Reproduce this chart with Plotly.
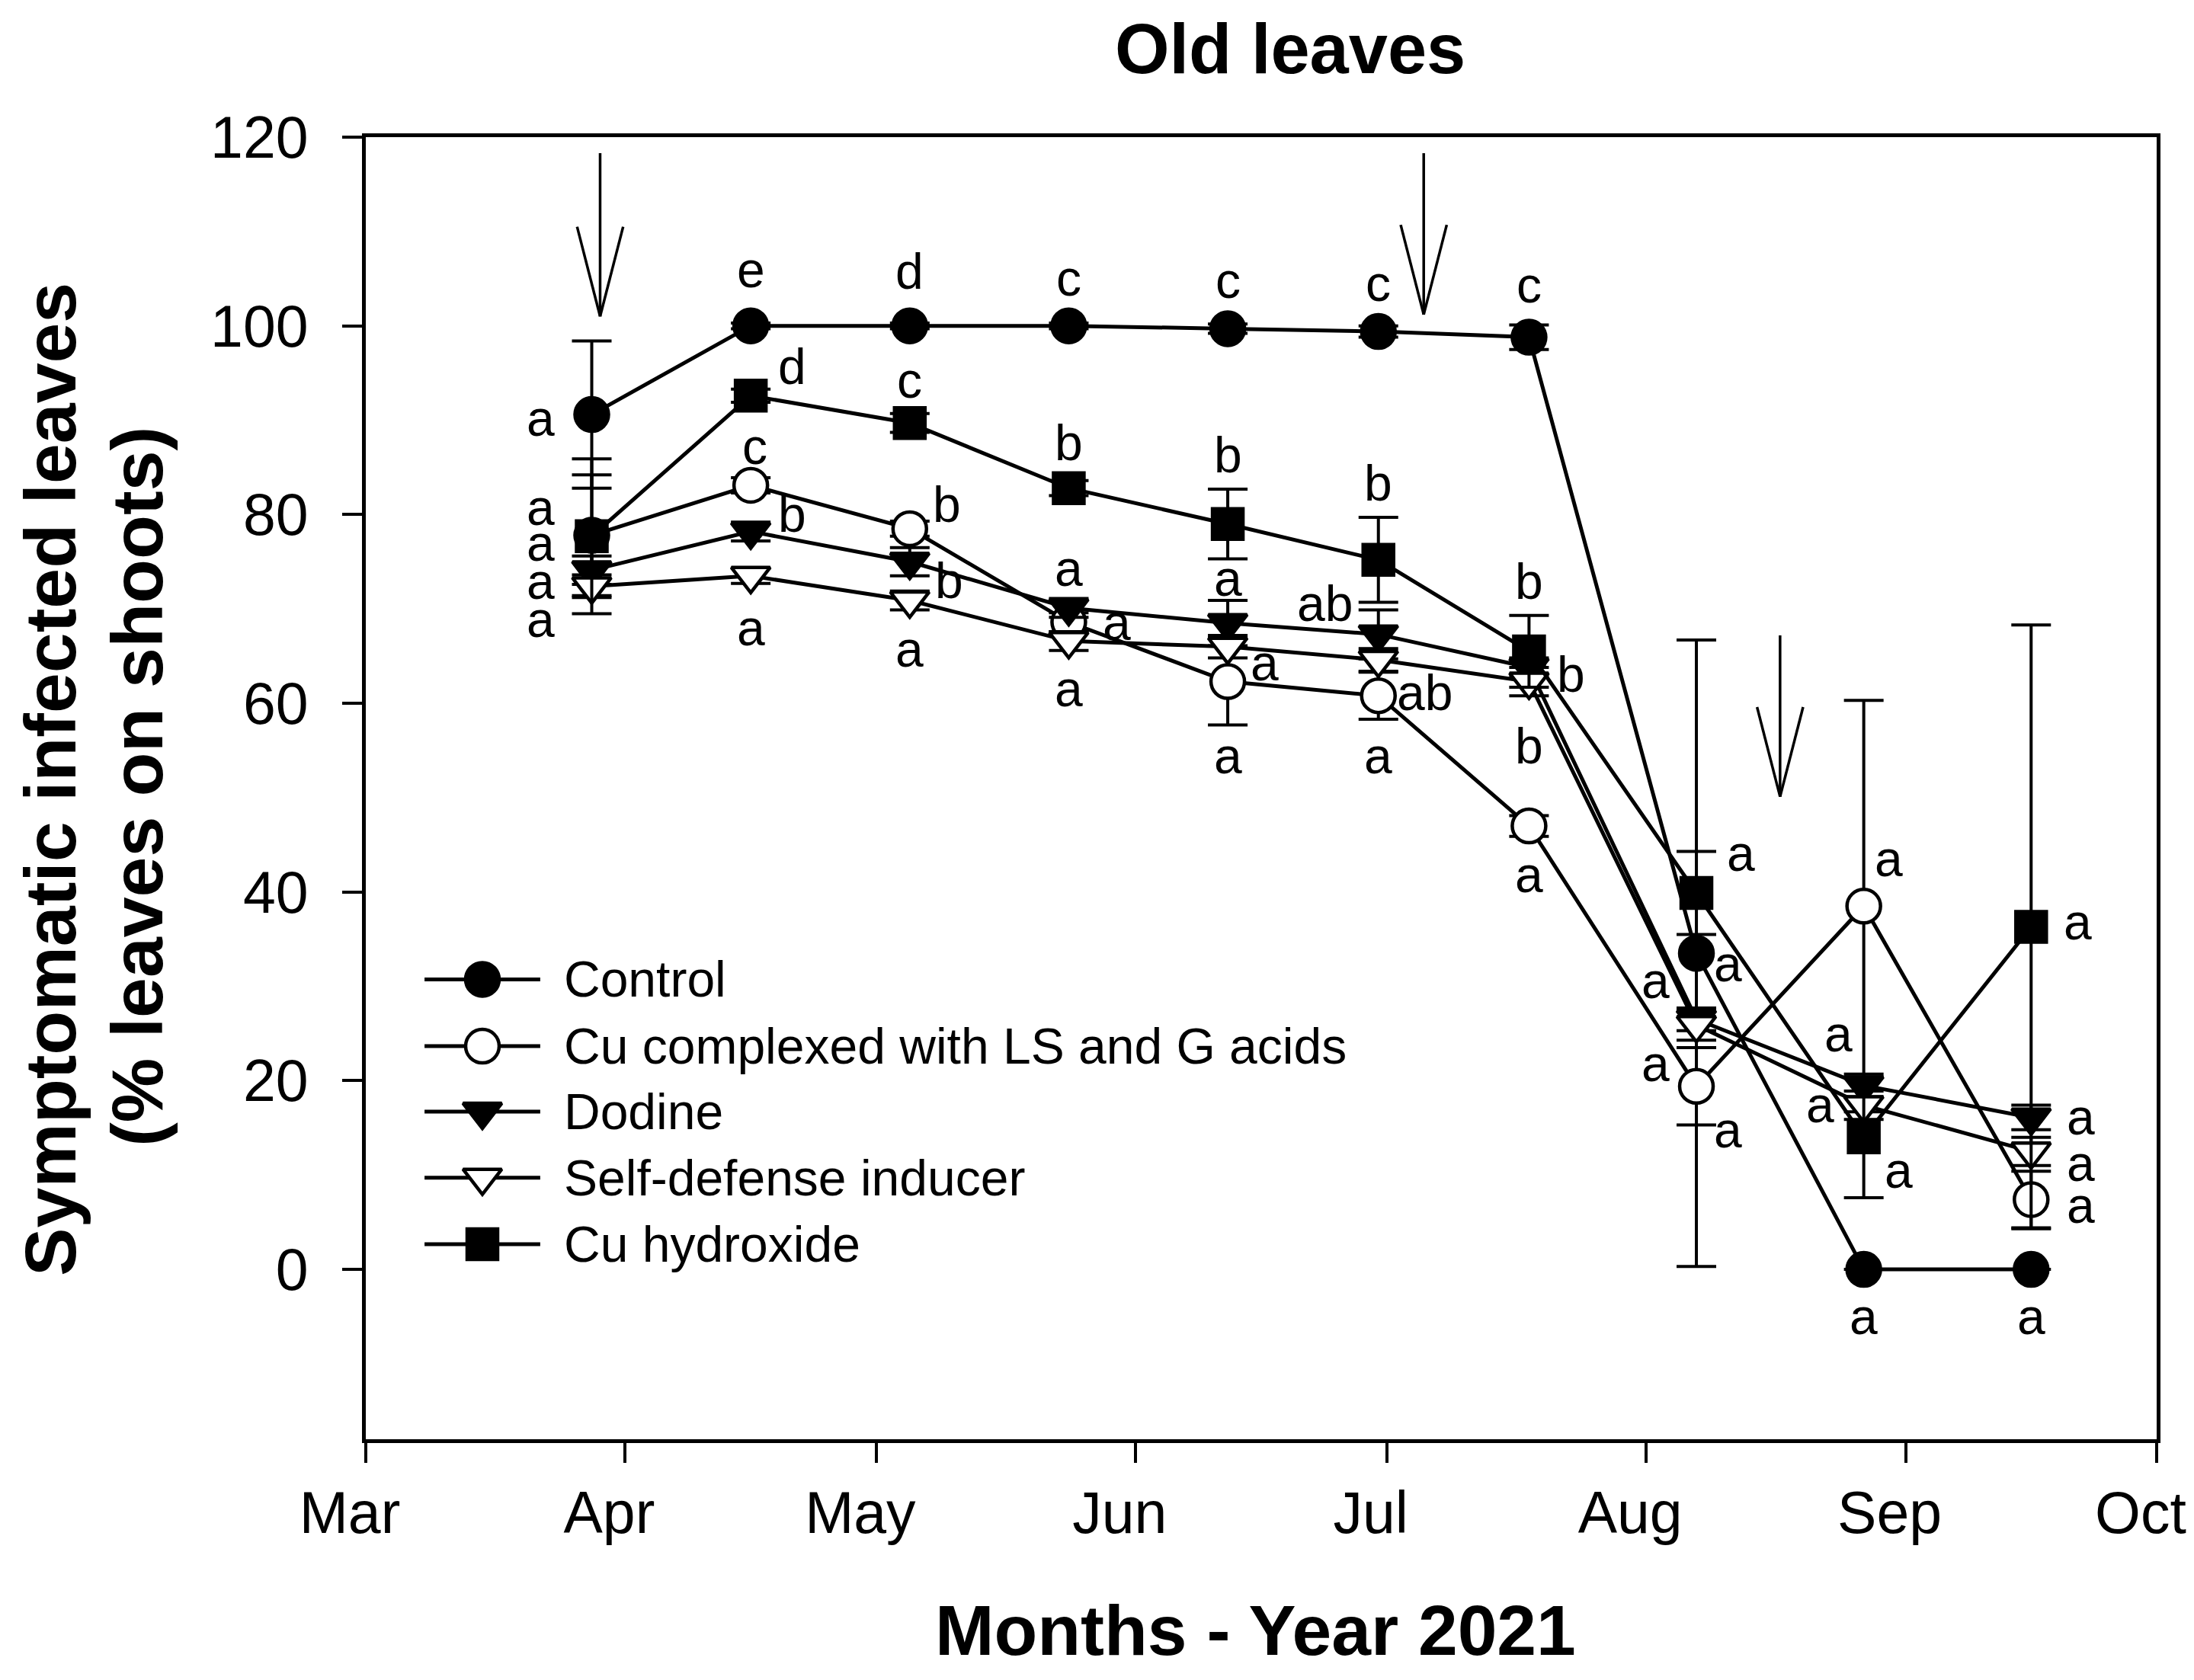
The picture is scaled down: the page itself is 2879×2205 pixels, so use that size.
import pandas as pd
import plotly.graph_objects as go

# sampling dates (2021)
dates = ['2021-03-28', '2021-04-16', '2021-05-05', '2021-05-24', '2021-06-12',
         '2021-06-30', '2021-07-18', '2021-08-07', '2021-08-27', '2021-09-16']

# % symptomatic infected leaves, mean and SD
control = [90.6, 100.0, 100.0, 100.0, 99.7, 99.4, 98.8, 33.5, 0.0, 0.0]
control_sd = [7.8, 0.3, 0.3, 0.3, 0.5, 0.6, 1.3, 33.2, 0.0, 0.0]

cu_complex = [77.8, 83.1, 78.5, 68.6, 62.3, 60.8, 47.0, 19.4, 38.5, 7.4]
cu_complex_sd = [6.4, 0.8, 0.8, 1.0, 4.6, 2.5, 1.1, 4.1, 21.8, 3.0]

dodine = [74.1, 78.2, 75.0, 70.1, 68.5, 67.3, 63.8, 26.5, 19.5, 16.1]
dodine_sd = [1.5, 1.0, 1.5, 1.0, 2.4, 2.6, 1.0, 1.2, 1.2, 1.3]

self_defense = [72.4, 73.5, 70.9, 66.6, 66.0, 64.6, 62.3, 25.9, 17.4, 12.5]
self_defense_sd = [1.2, 0.8, 1.0, 1.0, 1.2, 1.2, 1.5, 1.6, 1.5, 1.5]

cu_hydroxide = [77.7, 92.6, 89.7, 82.8, 79.0, 75.2, 65.5, 39.9, 14.0, 36.3]
cu_hydroxide_sd = [8.2, 0.7, 1.0, 0.8, 3.7, 4.5, 3.8, 4.4, 6.4, 32.0]

# significance letters
letter_x = (['2021-03-21 22:00'] * 5 +
            ['2021-04-16', '2021-04-20 22:00', '2021-04-16 12:00', '2021-04-20 22:00', '2021-04-16'] +
            ['2021-05-05', '2021-05-05', '2021-05-09 10:00', '2021-05-09 17:00', '2021-05-05'] +
            ['2021-05-24', '2021-05-24', '2021-05-24', '2021-05-29 17:00', '2021-05-24'] +
            ['2021-06-12', '2021-06-12', '2021-06-12', '2021-06-16 10:00', '2021-06-12'] +
            ['2021-06-30', '2021-06-30', '2021-06-23 14:00', '2021-07-05 12:00', '2021-06-30'] +
            ['2021-07-18', '2021-07-18', '2021-07-23', '2021-07-18', '2021-07-18'] +
            ['2021-08-12 07:00', '2021-08-10 19:00', '2021-08-02 02:00', '2021-08-02 02:00', '2021-08-10 19:00'] +
            ['2021-08-30', '2021-08-24', '2021-08-21 19:00', '2021-08-31 05:00', '2021-08-27'] +
            ['2021-09-21 14:00', '2021-09-21 22:00', '2021-09-21 22:00', '2021-09-21 22:00', '2021-09-16'])
letter_y = ([89.9, 80.4, 76.6, 72.6, 68.6] +
            [105.6, 95.7, 86.9, 80.0, 67.7] +
            [105.8, 93.9, 81.1, 73.0, 65.4] +
            [104.7, 87.6, 74.0, 68.2, 61.2] +
            [104.5, 86.3, 72.9, 64.0, 54.1] +
            [104.2, 83.3, 70.6, 61.1, 54.1] +
            [104.0, 72.9, 63.1, 55.5, 41.5] +
            [43.8, 32.1, 30.3, 21.5, 14.5] +
            [43.2, 24.6, 17.1, 10.2, -5.3] +
            [36.5, 15.8, 10.9, 6.5, -5.3])
letter_text = (['a', 'a', 'a', 'a', 'a'] +
               ['e', 'd', 'c', 'b', 'a'] +
               ['d', 'c', 'b', 'b', 'a'] +
               ['c', 'b', 'a', 'a', 'a'] +
               ['c', 'b', 'a', 'a', 'a'] +
               ['c', 'b', 'ab', 'ab', 'a'] +
               ['c', 'b', 'b', 'b', 'a'] +
               ['a', 'a', 'a', 'a', 'a'] +
               ['a', 'a', 'a', 'a', 'a'] +
               ['a', 'a', 'a', 'a', 'a'])

# treatment application arrows
arrow_x = ['2021-03-29', '2021-07-05 10:00', '2021-08-17']
arrow_top = [118.3, 118.3, 67.2]
arrow_tip = [101.0, 101.2, 50.1]

series = [
    ('Control', control, control_sd, 'circle', 'black', 44),
    ('Cu complexed with LS and G acids', cu_complex, cu_complex_sd, 'circle', 'white', 44),
    ('Dodine', dodine, dodine_sd, 'triangle-down', 'black', 44),
    ('Self-defense inducer', self_defense, self_defense_sd, 'triangle-down', 'white', 44),
    ('Cu hydroxide', cu_hydroxide, cu_hydroxide_sd, 'square', 'black', 40),
]

FONT = 'Liberation Sans, Arial, sans-serif'

fig = go.Figure()

for name, vals, sd, sym, fill, size in series:
    fig.add_trace(go.Scatter(
        x=dates, y=vals, mode='lines+markers', name=name, showlegend=False,
        line=dict(color='black', width=5),
        marker=dict(symbol=sym, size=size, color=fill, line=dict(color='black', width=4.5)),
        error_y=dict(type='data', array=sd, visible=True, color='black', thickness=4, width=26),
        cliponaxis=False,
    ))

# hand-made legend on an overlay axis (0..1 paper-like coords)
leg_y = [0.3532, 0.3019, 0.2516, 0.2009, 0.1498]
for (name, vals, sd, sym, fill, size), ly in zip(series, leg_y):
    fig.add_trace(go.Scatter(
        x=[0.0328, 0.0651, 0.0974], y=[ly] * 3, xaxis='x2', yaxis='y2',
        mode='lines+markers', showlegend=False, hoverinfo='skip',
        line=dict(color='black', width=5),
        marker=dict(symbol=sym, size=[0, size, 0], color=fill, opacity=1,
                    line=dict(color='black', width=[0, 4.5, 0])),
    ))
    fig.add_annotation(x=0.1098, y=ly, xref='x2', yref='y2', text=name, showarrow=False,
                       xanchor='left', yanchor='middle',
                       font=dict(family=FONT, size=66, color='black'))

for lx, ly, lt in zip(letter_x, letter_y, letter_text):
    fig.add_annotation(x=lx, y=ly, text=lt, showarrow=False, xanchor='center', yanchor='middle',
                       yshift=4 if lt in ('a', 'c', 'e') else 0,
                       font=dict(family=FONT, size=66, color='black'))

for ax, top, tip in zip(arrow_x, arrow_top, arrow_tip):
    t = pd.Timestamp(ax)
    off = pd.Timedelta(days=2.75)
    fig.add_shape(type='line', x0=t, x1=t, y0=top, y1=tip, line=dict(color='black', width=3.5))
    fig.add_shape(type='line', x0=t - off, x1=t, y0=tip + 9.5, y1=tip, line=dict(color='black', width=3.5))
    fig.add_shape(type='line', x0=t + off, x1=t, y0=tip + 9.5, y1=tip, line=dict(color='black', width=3.5))

month_ticks = ['2021-03-01', '2021-04-01', '2021-05-01', '2021-06-01',
               '2021-07-01', '2021-08-01', '2021-09-01', '2021-10-01']
month_labels = ['Mar', 'Apr', 'May', 'Jun', 'Jul', 'Aug', 'Sep', 'Oct']

fig.update_layout(
    width=2879, height=2205,
    margin=dict(l=472, r=57, t=172, b=324),
    paper_bgcolor='white', plot_bgcolor='white',
    font=dict(family=FONT, color='black'),
    xaxis=dict(type='date', range=['2021-03-01', '2021-10-01'],
               tickvals=month_ticks, ticktext=month_labels,
               ticks='outside', ticklen=26, tickwidth=4, tickcolor='black',
               tickfont=dict(size=77), ticklabelshift=-21, ticklabeloverflow='allow',
               showgrid=False, zeroline=False,
               showline=True, linecolor='black', linewidth=5, mirror=True),
    yaxis=dict(range=[-18, 120], tickvals=[0, 20, 40, 60, 80, 100, 120],
               ticks='outside', ticklen=26, tickwidth=4, tickcolor='black',
               tickfont=dict(size=77), ticklabelstandoff=29,
               showgrid=False, zeroline=False,
               showline=True, linecolor='black', linewidth=5, mirror=True),
    xaxis2=dict(range=[0, 1], overlaying='x', visible=False, fixedrange=True),
    yaxis2=dict(range=[0, 1], overlaying='y', visible=False, fixedrange=True),
)

fig.add_annotation(x=0.516, y=1.068, xref='paper', yref='paper', text='<b>Old leaves</b>',
                   showarrow=False, xanchor='center', yanchor='middle',
                   font=dict(family=FONT, size=92))
fig.add_annotation(x=0.497, y=-0.147, xref='paper', yref='paper', text='<b>Months - Year 2021</b>',
                   showarrow=False, xanchor='center', yanchor='middle',
                   font=dict(family=FONT, size=93))
fig.add_annotation(x=-0.1762, y=0.5067, xref='paper', yref='paper',
                   text='<b>Symptomatic infected leaves</b>',
                   showarrow=False, xanchor='center', yanchor='middle', textangle=-90,
                   font=dict(family=FONT, size=95))
fig.add_annotation(x=-0.1277, y=0.5015, xref='paper', yref='paper',
                   text='<b>(% leaves on shoots)</b>',
                   showarrow=False, xanchor='center', yanchor='middle', textangle=-90,
                   font=dict(family=FONT, size=95))

fig.write_html('out.html')
